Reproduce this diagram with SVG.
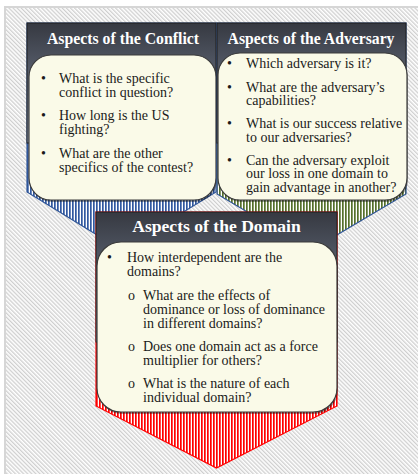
<svg xmlns="http://www.w3.org/2000/svg" width="418" height="474" viewBox="0 0 418 474">
<defs>
  <pattern id="bg" width="2.9" height="10" patternUnits="userSpaceOnUse" patternTransform="rotate(-45)">
    <rect width="2.9" height="10" fill="#ffffff"/>
    <rect width="1.3" height="10" fill="#cfcfcf"/>
  </pattern>
  <pattern id="blue" width="3" height="10" patternUnits="userSpaceOnUse">
    <rect width="3" height="10" fill="#ffffff"/>
    <rect width="1.7" height="10" fill="#3158a0"/>
  </pattern>
  <pattern id="green" width="3" height="10" patternUnits="userSpaceOnUse">
    <rect width="3" height="10" fill="#ffffff"/>
    <rect width="1.7" height="10" fill="#55702c"/>
  </pattern>
  <pattern id="red" width="3" height="10" patternUnits="userSpaceOnUse">
    <rect width="3" height="10" fill="#ffffff"/>
    <rect width="1.7" height="10" fill="#ff0000"/>
  </pattern>
  <linearGradient id="hdr" x1="0" y1="0" x2="0" y2="1">
    <stop offset="0" stop-color="#363941"/>
    <stop offset="1" stop-color="#8490a6"/>
  </linearGradient>
  <style>
    .hdr { fill: url(#hdr); stroke: #1e1e1e; stroke-width: 1; }
    .box { fill: #fafae8; stroke: #3a3a3a; stroke-width: 1.2; }
    .shadow { fill: #000000; opacity: 0.35; }
    .title { font-family: "Liberation Serif", "DejaVu Serif", serif; font-weight: bold; fill: #ffffff; text-anchor: middle; }
    .body { font-family: "Liberation Serif", "DejaVu Serif", serif; font-size: 14px; fill: #1a1a1a; }
  </style>
</defs>

<rect x="5" y="7" width="430" height="480" fill="url(#bg)" stroke="#d6d6d6" stroke-width="2"/>

<g id="conflict">
  <polygon points="27,23 216,23 216,192 121.5,250 27,192" fill="url(#blue)" stroke="#2f5597" stroke-width="1.2"/>
  <rect class="hdr" x="27" y="23" width="189" height="120"/>
  <text class="title" x="123" y="43.5" font-size="15.8">Aspects of the Conflict</text>
  <rect class="shadow" x="30" y="57" width="187" height="145" rx="22"/>
  <rect class="box" x="29" y="55" width="187" height="145" rx="22"/>
  <g class="body">
    <text x="41" y="83">•</text>
    <text x="59" y="83">What is the specific</text>
    <text x="59" y="97">conflict in question?</text>
    <text x="41" y="120">•</text>
    <text x="59" y="120">How long is the US</text>
    <text x="59" y="134">fighting?</text>
    <text x="41" y="157.5">•</text>
    <text x="59" y="157.5">What are the other</text>
    <text x="59" y="171.5">specifics of the contest?</text>
  </g>
</g>

<g id="adversary">
  <polygon points="217,23 406,23 406,194 311.5,250 217,194" fill="url(#green)" stroke="#2f5597" stroke-width="1.2"/>
  <rect class="hdr" x="217" y="23" width="189" height="120"/>
  <text class="title" x="311" y="43.5" font-size="15.7">Aspects of the Adversary</text>
  <rect class="shadow" x="219" y="55" width="189" height="147" rx="22"/>
  <rect class="box" x="218" y="53" width="189" height="147" rx="22"/>
  <g class="body">
    <text x="227" y="68">•</text>
    <text x="246" y="68">Which adversary is it?</text>
    <text x="227" y="91.5">•</text>
    <text x="246" y="91.5">What are the adversary’s</text>
    <text x="246" y="105">capabilities?</text>
    <text x="227" y="128">•</text>
    <text x="246" y="128">What is our success relative</text>
    <text x="246" y="141.5">to our adversaries?</text>
    <text x="227" y="164.5">•</text>
    <text x="246" y="164.5">Can the adversary exploit</text>
    <text x="246" y="178">our loss in one domain to</text>
    <text x="246" y="191.5">gain advantage in another?</text>
  </g>
</g>

<g id="domain">
  <polygon points="96,212 337,212 337,406 216.5,468 96,406" fill="url(#red)" stroke="#ff0000" stroke-width="1.2"/>
  <rect class="hdr" x="96" y="212" width="241" height="130"/>
  <text class="title" x="216.5" y="232" font-size="17.6">Aspects of the Domain</text>
  <rect class="shadow" x="98" y="244" width="240" height="170" rx="24"/>
  <rect class="box" x="97" y="242" width="240" height="170" rx="24"/>
  <g class="body">
    <text x="107" y="262">•</text>
    <text x="127" y="262">How interdependent are the</text>
    <text x="127" y="276">domains?</text>
    <text x="128" y="299.5">o</text>
    <text x="143" y="299.5">What are the effects of</text>
    <text x="143" y="313.5">dominance or loss of dominance</text>
    <text x="143" y="327.5">in different domains?</text>
    <text x="128" y="351">o</text>
    <text x="143" y="351">Does one domain act as a force</text>
    <text x="143" y="365">multiplier for others?</text>
    <text x="128" y="388">o</text>
    <text x="143" y="388">What is the nature of each</text>
    <text x="143" y="402">individual domain?</text>
  </g>
</g>

<g id="connectors"/>
</svg>
